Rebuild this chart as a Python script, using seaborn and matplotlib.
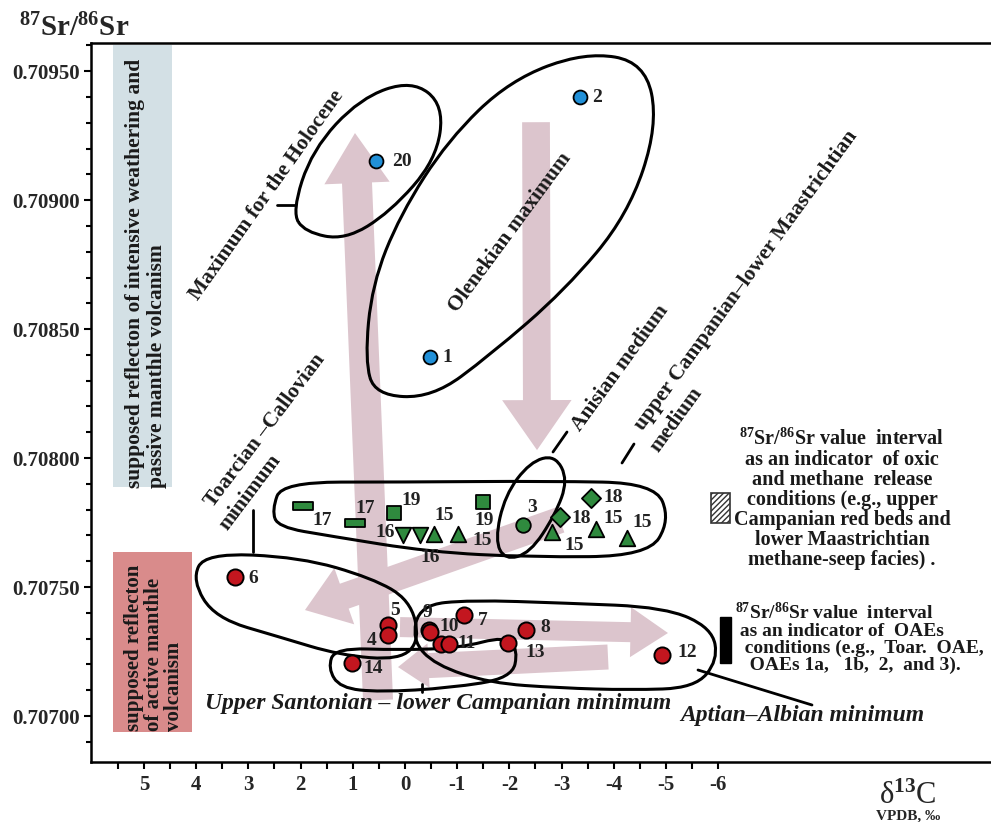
import numpy as np
import pandas as pd
import matplotlib
matplotlib.use("Agg")
import matplotlib.pyplot as plt
from matplotlib.path import Path
from matplotlib.patches import PathPatch, Rectangle
from matplotlib.markers import MarkerStyle
from matplotlib.ticker import MultipleLocator, FixedLocator, FormatStrFormatter
import seaborn as sns


# DATA

# blue points (maxima)
blue_id = ["20", "2", "1"]
blue_d13c = [0.556, -3.352, -0.479]
blue_sr = [0.709151, 0.709399, 0.708391]

# green points (medium values)
green_id = ["17", "17", "19", "16", "16", "15", "15", "19", "3", "15", "18", "18", "15", "15"]
green_shape = ["bar", "bar", "square", "tri_down", "tri_down", "tri_up", "tri_up",
               "square", "circle", "tri_up", "diamond", "diamond", "tri_up", "tri_up"]
green_d13c = [1.954, 0.958, 0.211, 0.038, -0.287, -0.556, -1.015,
              -1.494, -2.261, -2.816, -2.969, -3.563, -3.659, -4.253]
green_sr = [0.707814, 0.707748, 0.707787, 0.707702, 0.707702, 0.707705, 0.707705,
            0.707829, 0.707740, 0.707713, 0.707771, 0.707845, 0.707725, 0.707690]

# red points (minima)
red_id = ["6", "5", "4", "14", "9", "10", "11", "11", "7", "8", "13", "12"]
red_d13c = [3.257, 0.326, 0.326, 1.015, -0.460, -0.479, -0.690, -0.843,
            -1.130, -2.318, -1.973, -4.923]
red_sr = [0.707539, 0.707353, 0.707314, 0.707205, 0.707333, 0.707326, 0.707279,
          0.707279, 0.707391, 0.707333, 0.707283, 0.707236]

# outlines of the groups (d13C, Sr)
holocene_x = [2.165, 1.782, 0.862, -0.134, -0.747, -0.594, 0.287, 1.149, 1.916]
holocene_y = [0.708953, 0.709194, 0.709395, 0.709465, 0.709368, 0.709155, 0.708953, 0.708845, 0.708876]

olenekian_x = [0.766, 0.632, 0.096, -0.824, -2.011, -3.448, -4.598, -4.847,
               -4.272, -3.065, -1.628, -0.517, 0.575]
olenekian_y = [0.708380, 0.708671, 0.708942, 0.709233, 0.709465, 0.709574, 0.709535,
               0.709291, 0.708942, 0.708651, 0.708399, 0.708233, 0.708244]

anisian_x = [-1.724, -1.916, -2.395, -2.874, -3.123, -2.874, -2.395, -1.916]
anisian_y = [0.707682, 0.707857, 0.707985, 0.708012, 0.707915, 0.707779, 0.707632, 0.707605]

campanian_x = [2.548, 2.356, 0.096, -2.778, -4.789, -5.077, -4.655, -2.395, -0.479, 1.437, 2.433]
campanian_y = [0.707798, 0.707907, 0.707907, 0.707911, 0.707903, 0.707760, 0.707620,
               0.707616, 0.707636, 0.707698, 0.707733]

toarcian_x = [4.080, 3.831, 2.011, 0.632, -0.096, -0.287, 0.096, 1.245, 2.395, 3.640]
toarcian_y = [0.707527, 0.707632, 0.707616, 0.707535, 0.707450, 0.707295, 0.707217,
              0.707236, 0.707306, 0.707380]

santonian_x = [1.475, 1.341, 0.096, -1.054, -1.916, -2.165, -2.050, -0.862, 0.479, 1.245]
santonian_y = [0.707186, 0.707264, 0.707256, 0.707264, 0.707310, 0.707256, 0.707147,
               0.707109, 0.707093, 0.707109]

aptian_x = [-0.134, -0.287, -1.245, -3.065, -4.981, -5.881, -5.996, -5.556,
            -4.310, -2.969, -1.628, -0.575]
aptian_y = [0.707295, 0.707430, 0.707450, 0.707438, 0.707422, 0.707341, 0.707217,
            0.707109, 0.707101, 0.707109, 0.707128, 0.707198]

# trend arrows (tail -> head)
arrow_tail_x = [0.517, -2.510, -2.969, 0.096, -3.889]
arrow_tail_y = [0.707062, 0.709302, 0.707760, 0.707345, 0.707229]
arrow_head_x = [0.958, -2.529, 1.916, -5.038, 0.134]
arrow_head_y = [0.709260, 0.708031, 0.707411, 0.707322, 0.707190]

# shaded Sr bands and interval swatches
weathering_x = (5.59, 4.46)
weathering_y = (0.707888, 0.709601)
volcanism_x = (5.59, 4.08)
volcanism_y = (0.706938, 0.707636)
oxic_x = (-5.86, -6.23)
oxic_y = (0.707748, 0.707864)
oae_x = (-6.03, -6.25)
oae_y = (0.707205, 0.707384)

x_ticks = [5, 4, 3, 2, 1, 0, -1, -2, -3, -4, -5, -6]
x_tick_labels = ["5", "4", "3", "2", "1", "0", "-1", "-2", "-3", "-4", "-5", "-6"]
x_minor_ticks = [5.5, 4.5, 3.5, 2.5, 1.5, 0.5, -0.5, -1.5, -2.5, -3.5, -4.5, -5.5]


# STYLE

W, H = 991, 822
SERIF = "Liberation Serif"
BLUE = "#2190d8"
GREEN = "#2f8a3e"
RED = "#c3161f"
PINK = "#dcc5cd"
INK = "#1a1a1a"

sns.set_theme(style="ticks")
plt.rcParams["font.family"] = [SERIF, "DejaVu Serif"]
plt.rcParams["mathtext.fontset"] = "custom"
plt.rcParams["mathtext.rm"] = SERIF + ":bold"
plt.rcParams["mathtext.it"] = SERIF + ":bold:italic"
plt.rcParams["mathtext.bf"] = SERIF + ":bold"
plt.rcParams["mathtext.default"] = "rm"


def fpx(x, y):
    # pixel position in the picture -> figure fraction
    return x / W, 1 - y / H


def closed_curve(xs, ys):
    pts = np.column_stack([xs, ys])
    mids = (pts + np.roll(pts, -1, axis=0)) / 2
    verts = [mids[-1]]
    codes = [Path.MOVETO]
    for p, m in zip(pts, mids):
        verts += [p, m]
        codes += [Path.CURVE3, Path.CURVE3]
    return Path(verts, codes)


fig = plt.figure(figsize=(W / 100, H / 100), dpi=100)
ax = fig.add_axes([91 / W, 60 / H, 900 / W, 719 / H])

ax.set_xlim(6.015, -11.226)
ax.set_ylim(0.706822, 0.709609)

# bands
ax.add_patch(Rectangle((weathering_x[1], weathering_y[0]), weathering_x[0] - weathering_x[1],
                       weathering_y[1] - weathering_y[0], facecolor="#d3e0e5", edgecolor="none", zorder=0))
ax.add_patch(Rectangle((volcanism_x[1], volcanism_y[0]), volcanism_x[0] - volcanism_x[1],
                       volcanism_y[1] - volcanism_y[0], facecolor="#d98b8b", edgecolor="none", zorder=0))

# arrows
arrow_shape = [(21.6, 47, 36), (20, 50, 36), (19, 43, 30), (14.4, 36, 27), (18, 32, 22)]
for tx, ty, hx, hy, (tw, hw, hl) in zip(arrow_tail_x, arrow_tail_y, arrow_head_x, arrow_head_y, arrow_shape):
    ax.annotate("", xy=(hx, hy), xytext=(tx, ty),
                arrowprops=dict(arrowstyle=f"simple,head_length={hl},head_width={hw},tail_width={tw}",
                                color=PINK, shrinkA=0, shrinkB=0, mutation_scale=1, lw=0),
                zorder=1)

# group outlines
for xs, ys in [(holocene_x, holocene_y), (olenekian_x, olenekian_y), (anisian_x, anisian_y),
               (campanian_x, campanian_y), (toarcian_x, toarcian_y), (santonian_x, santonian_y),
               (aptian_x, aptian_y)]:
    ax.add_patch(PathPatch(closed_curve(xs, ys), facecolor="none", edgecolor="black", lw=2.2, zorder=3))

# points
blue = pd.DataFrame({"d13c": blue_d13c, "sr": blue_sr, "id": blue_id})
green = pd.DataFrame({"d13c": green_d13c, "sr": green_sr, "id": green_id, "shape": green_shape})
red = pd.DataFrame({"d13c": red_d13c, "sr": red_sr, "id": red_id})

bar_marker = MarkerStyle(Path([(-1, -0.4), (1, -0.4), (1, 0.4), (-1, 0.4), (-1, -0.4)],
                              [Path.MOVETO, Path.LINETO, Path.LINETO, Path.LINETO, Path.CLOSEPOLY]))
shape_marker = {"bar": (bar_marker, 200), "square": ("s", 95), "tri_up": ("^", 125),
                "tri_down": ("v", 125), "circle": ("o", 110), "diamond": ("D", 95)}

sns.scatterplot(data=blue, x="d13c", y="sr", ax=ax, color=BLUE, marker="o", s=100,
                edgecolor="black", linewidth=1.3, zorder=5, legend=False)
for shape, sub in green.groupby("shape"):
    mk, size = shape_marker[shape]
    sns.scatterplot(data=sub, x="d13c", y="sr", ax=ax, color=GREEN, marker=mk, s=size,
                    edgecolor="black", linewidth=1.3, zorder=5, legend=False)
sns.scatterplot(data=red, x="d13c", y="sr", ax=ax, color=RED, marker="o", s=135,
                edgecolor="black", linewidth=1.4, zorder=5, legend=False)

# point numbers (offsets in pixels, right / down)
blue_off = [(26, 0), (17, 0), (17, 0)]
green_off = [(19, 14), (10, -15), (17, -13), (-18, -2), (10, 23), (10, -19), (24, 6),
             (1, 18), (9, -18), (22, 13), (21, 1), (22, -1), (17, -11), (15, -16)]
red_off = [(18, 1), (7, -15), (-16, 5), (21, 5), (-2, -18), (19, -5), None, (18, -1),
           (19, 5), (19, -3), (27, 9), (25, -3)]
for df, offs in [(blue, blue_off), (green, green_off), (red, red_off)]:
    for (_, row), off in zip(df.iterrows(), offs):
        if off is None:
            continue
        ax.annotate(row["id"], (row["d13c"], row["sr"]), xytext=(off[0] * 0.72, -off[1] * 0.72),
                    textcoords="offset points", ha="center", va="center",
                    fontsize=14, fontweight="bold", color="#222222", zorder=6)

# interval swatches
ax.add_patch(Rectangle((oxic_x[1], oxic_y[0]), oxic_x[0] - oxic_x[1], oxic_y[1] - oxic_y[0],
                       facecolor="white", edgecolor="#333333", hatch="//////", lw=1.2, zorder=4))
ax.add_patch(Rectangle((oae_x[1], oae_y[0]), oae_x[0] - oae_x[1], oae_y[1] - oae_y[0],
                       facecolor="black", edgecolor="black", zorder=4))

# axes styling
for side in ["left", "top", "bottom"]:
    ax.spines[side].set_linewidth(1.8)
    ax.spines[side].set_color("black")
ax.spines["right"].set_visible(False)

ax.set_xticks(x_ticks)
ax.set_xticklabels(x_tick_labels)
ax.xaxis.set_minor_locator(FixedLocator(x_minor_ticks))
ax.yaxis.set_major_locator(MultipleLocator(0.0005))
ax.yaxis.set_minor_locator(MultipleLocator(0.0001))
ax.yaxis.set_major_formatter(FormatStrFormatter("%.5f"))
ax.tick_params(axis="both", which="both", direction="out", width=1.5, color="black")
ax.tick_params(axis="x", which="both", length=5, pad=4, labelsize=15)
ax.tick_params(axis="y", which="major", length=5, pad=3, labelsize=15)
ax.tick_params(axis="y", which="minor", length=3.5)
for lab in ax.get_xticklabels() + ax.get_yticklabels():
    lab.set_fontweight("bold")
ax.set_xlabel("")
ax.set_ylabel("")

# axis titles
fig.text(*fpx(74, 28), "$^{87}$Sr/$^{86}$Sr", fontsize=21, fontweight="bold", ha="center", va="center")
fig.text(*fpx(908, 796), "δ$^{13}$C", fontsize=22, ha="center", va="center")
fig.text(*fpx(908, 816), "VPDB, ‰", fontsize=11, fontweight="bold", ha="center", va="center")

# band texts
fig.text(*fpx(146, 488), "supposed reflecton of intensive weathering and\npassive manthle volcanism",
         rotation=90, ha="center", va="bottom", multialignment="left", fontsize=15.5,
         fontweight="bold", linespacing=1.15, color=INK)
fig.text(*fpx(154, 731), "supposed reflecton\nof active manthle\nvolcanism",
         rotation=90, ha="center", va="bottom", multialignment="left", fontsize=15,
         fontweight="bold", linespacing=1.0, color=INK)

# group names
rot_labels = [
    ("Maximum for the Holocene", 267, 195, 54.7),
    ("Olenekian maximum", 510, 232, 53.6),
    ("Toarcian \u2013Callovian", 265, 430, 53.0),
    ("minimum", 250, 492, 53.0),
    ("Anisian medium", 620, 368, 54.0),
    ("upper Campanian\u2013lower Maastrichtian", 746, 280, 54.0),
    ("medium", 676, 420, 54.0),
]
for txt, px, py, rot in rot_labels:
    fig.text(*fpx(px, py), txt, rotation=rot, rotation_mode="anchor", ha="center", va="center",
             fontsize=15.5, fontweight="bold", color=INK)

fig.text(*fpx(205, 704), "Upper Santonian \u2013 lower Campanian minimum", ha="left", va="center",
         fontsize=17, fontweight="bold", style="italic", color=INK)
fig.text(*fpx(680, 715), "Aptian\u2013Albian minimum", ha="left", va="center",
         fontsize=17, fontweight="bold", style="italic", color=INK)

# leader lines
for (x0, y0), (x1, y1) in [((277, 205), (295, 205)), ((253, 510), (253, 552)),
                           ((553, 452), (567, 432)), ((622, 463), (634, 444)),
                           ((422, 684), (422, 692)), ((698, 670), (812, 705))]:
    fig.add_artist(plt.Line2D([x0 / W, x1 / W], [1 - y0 / H, 1 - y1 / H], color="black", lw=2))

# legend texts
fig.text(*fpx(842, 499), "$^{87}$Sr/$^{86}$Sr value  interval\nas an indicator  of oxic\n"
         "and methane  release\nconditions (e.g., upper\nCampanian red beds and\n"
         "lower Maastrichtian\nmethane-seep facies) .",
         ha="center", va="center", multialignment="center", fontsize=14.5,
         fontweight="bold", linespacing=1.0, color=INK)
fig.text(*fpx(735, 638), "$^{87}$Sr/$^{86}$Sr value  interval\n as an indicator of  OAEs\n"
         "  conditions (e.g.,  Toar.  OAE,\n   OAEs 1a,   1b,  2,  and 3).",
         ha="left", va="center", multialignment="left", fontsize=14,
         fontweight="bold", linespacing=1.0, color=INK)

fig.savefig("out.png", dpi=100)
